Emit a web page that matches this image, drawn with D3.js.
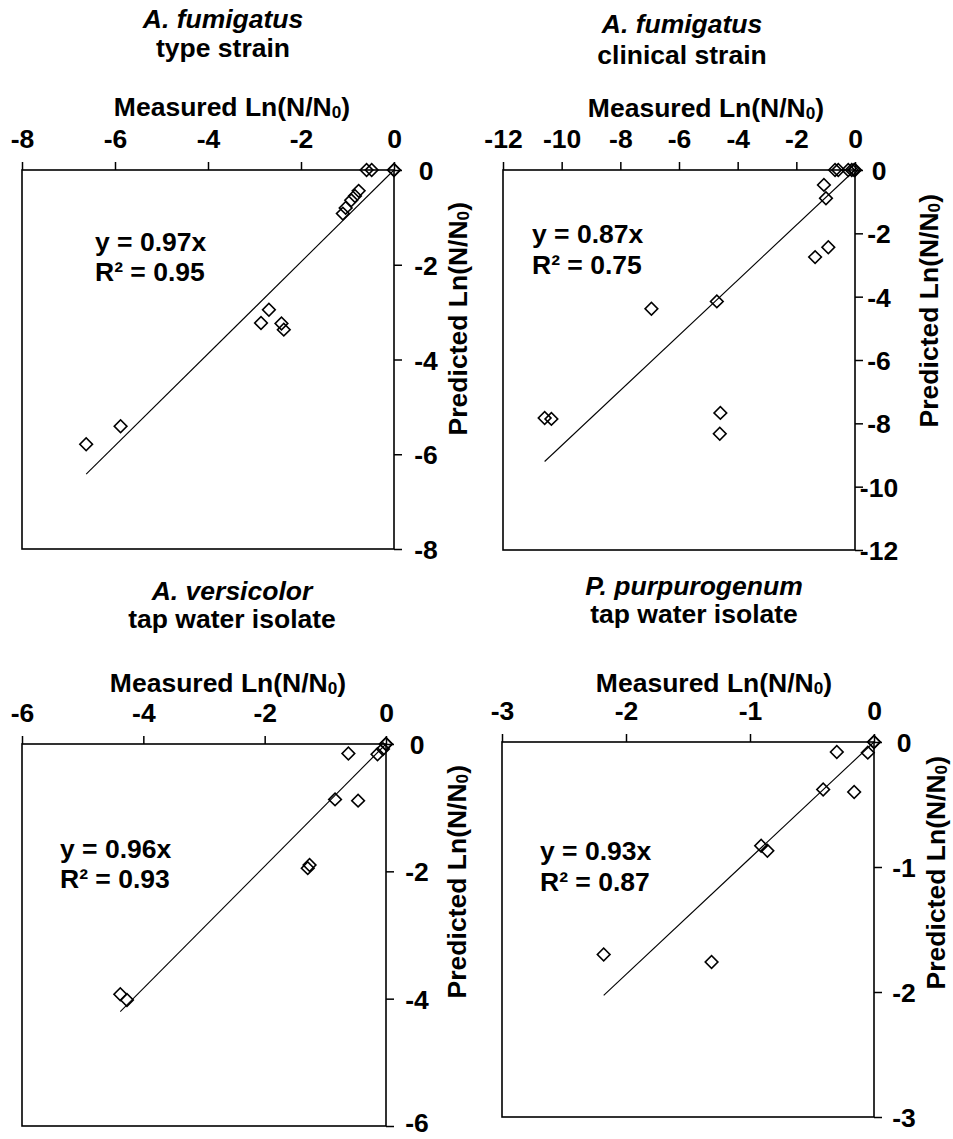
<!DOCTYPE html>
<html><head><meta charset="utf-8">
<script src="https://cdn.jsdelivr.net/npm/d3@7"></script>
<style>
body{margin:0;background:#fff}
text{font-family:"Liberation Sans",Arial,sans-serif;font-weight:bold;fill:#000}
</style>
</head><body>
<svg id="c" width="953" height="1139"></svg>
<script>
// ---------- DATA ----------
const p1Title = ["A. fumigatus", "type strain"];
const p1Ticks = [-8, -6, -4, -2, 0];
const p1Measured  = [0, 0, -0.48, -0.59, -0.76, -0.84, -0.92, -1.04, -1.10, -2.69, -2.86, -2.42, -2.37, -5.88, -6.62];
const p1Predicted = [0, 0, 0, 0, -0.44, -0.55, -0.64, -0.80, -0.92, -2.95, -3.23, -3.24, -3.37, -5.41, -5.79];
const p1Slope = 0.97, p1R2 = 0.95;

const p2Title = ["A. fumigatus", "clinical strain"];
const p2Ticks = [-12, -10, -8, -6, -4, -2, 0];
const p2Measured  = [0, -0.03, -0.11, -0.23, -0.57, -0.68, -1.06, -0.99, -0.91, -1.36, -4.71, -6.94, -4.59, -4.61, -10.58, -10.35];
const p2Predicted = [0, 0, 0, 0, 0, 0, -0.47, -0.89, -2.44, -2.75, -4.15, -4.38, -7.67, -8.33, -7.83, -7.86];
const p2Slope = 0.87, p2R2 = 0.75;

const p3Title = ["A. versicolor", "tap water isolate"];
const p3Ticks = [-6, -4, -2, 0];
const p3Measured  = [0, 0, -0.05, -0.14, -0.62, -0.84, -0.46, -1.29, -1.26, -4.38, -4.27];
const p3Predicted = [0, 0, -0.08, -0.16, -0.15, -0.87, -0.89, -1.95, -1.90, -3.93, -4.02];
const p3Slope = 0.96, p3R2 = 0.93;

const p4Title = ["P. purpurogenum", "tap water isolate"];
const p4Ticks = [-3, -2, -1, 0];
const p4Measured  = [0, 0, -0.05, -0.30, -0.41, -0.16, -0.91, -0.86, -2.18, -1.31];
const p4Predicted = [0, 0, -0.085, -0.08, -0.38, -0.40, -0.83, -0.87, -1.70, -1.76];
const p4Slope = 0.93, p4R2 = 0.87;

const xAxisLabel = "Measured Ln(N/N";
const yAxisLabel = "Predicted Ln(N/N";

// ---------- LAYOUT ----------
const FS = 26.5, H = 1139;
const panels = [
  {title:p1Title, ticks:p1Ticks, mx:p1Measured, py:p1Predicted, slope:p1Slope, r2:p1R2,
   box:{x0:22,x1:394,y0:170,y1:549}, tX:223, tY:[28,57], mX:232, mY:116, yLabOff:32,
   eq:{x:95,y:[251,281]}, yl:{x:467,y:202}},
  {title:p2Title, ticks:p2Ticks, mx:p2Measured, py:p2Predicted, slope:p2Slope, r2:p2R2,
   box:{x0:503,x1:855,y0:170,y1:550}, tX:682, tY:[33,64], mX:706, mY:117, yLabOff:24,
   eq:{x:532,y:[243,274]}, yl:{x:938,y:194}},
  {title:p3Title, ticks:p3Ticks, mx:p3Measured, py:p3Predicted, slope:p3Slope, r2:p3R2,
   box:{x0:22,x1:386,y0:744,y1:1126}, tX:232, tY:[600,628], mX:228, mY:692, yLabOff:31,
   eq:{x:60,y:[858,888]}, yl:{x:466,y:765}},
  {title:p4Title, ticks:p4Ticks, mx:p4Measured, py:p4Predicted, slope:p4Slope, r2:p4R2,
   box:{x0:502,x1:874,y0:742,y1:1117}, tX:694, tY:[595,623], mX:714, mY:692, yLabOff:30,
   eq:{x:540,y:[860,891]}, yl:{x:945,y:756}}
];

const svg = d3.select("#c");

function addText(parent, x, y, opts) {
  const g = parent.append("g")
    .attr("transform", `translate(${x},${y})` + (opts.rotate ? " rotate(-90)" : ""));
  const t = g.append("text").attr("text-anchor", opts.anchor || "middle").style("font-size", FS + "px");
  if (opts.italic) t.style("font-style", "italic");
  if (opts.sub) {
    t.append("tspan").text(opts.text);
    t.append("tspan").text("0").style("font-size", (FS * 0.65) + "px").attr("dy", 2);
    t.append("tspan").text(")").attr("dy", -2);
  } else {
    t.text(opts.text);
  }
  return t;
}

panels.forEach(p => {
  const g = svg.append("g");
  const b = p.box;
  const lo = d3.min(p.ticks), hi = d3.max(p.ticks);
  const x = d3.scaleLinear().domain([lo, hi]).range([b.x0, b.x1]);
  const y = d3.scaleLinear().domain([lo, hi]).range([b.y1, b.y0]);

  // frame
  g.append("rect").attr("x", b.x0).attr("y", b.y0).attr("width", b.x1 - b.x0).attr("height", b.y1 - b.y0)
    .attr("fill", "none").attr("stroke", "#000").attr("stroke-width", 1.6);

  // top axis
  const gx = g.append("g").attr("transform", `translate(0,${b.y0})`)
    .call(d3.axisTop(x).tickValues(p.ticks).tickSize(8).tickSizeOuter(0).tickFormat(d => String(d)));
  gx.select(".domain").remove();
  gx.selectAll(".tick line").attr("stroke-width", 1.5);
  gx.selectAll(".tick text").attr("y", -22).attr("dy", 0).style("font-size", FS + "px");

  // right axis
  const gy = g.append("g").attr("transform", `translate(${b.x1},0)`)
    .call(d3.axisRight(y).tickValues(p.ticks).tickSize(8).tickSizeOuter(0).tickFormat(d => String(d)));
  gy.select(".domain").remove();
  gy.selectAll(".tick line").attr("stroke-width", 1.5);
  gy.selectAll(".tick text").attr("x", p.yLabOff).attr("dy", "0.36em").attr("text-anchor", "middle")
    .style("font-size", FS + "px")
    .each(function(d) {
      const over = y(d) + FS * 0.6 - (H - 1);
      if (over > 0) d3.select(this).attr("y", -over);
    });

  // regression line
  const xmin = d3.min(p.mx);
  g.append("path").attr("d", d3.line().x(d => x(d[0])).y(d => y(d[1]))([[xmin, p.slope * xmin], [0, 0]]))
    .attr("stroke", "#000").attr("stroke-width", 1.1).attr("fill", "none");

  // points
  const sym = d3.symbol(d3.symbolSquare, 80);
  g.selectAll("path.pt").data(p.mx.map((v, i) => [v, p.py[i]])).join("path").attr("class", "pt")
    .attr("d", sym)
    .attr("transform", d => `translate(${x(d[0])},${y(d[1])}) rotate(45)`)
    .attr("fill", "none").attr("stroke", "#000").attr("stroke-width", 1.6);

  // titles
  addText(g, p.tX, p.tY[0], {text: p.title[0], italic: true});
  addText(g, p.tX, p.tY[1], {text: p.title[1]});
  addText(g, p.mX, p.mY, {text: xAxisLabel, sub: true});
  addText(g, p.yl.x, p.yl.y, {text: yAxisLabel, sub: true, rotate: true, anchor: "end"});

  // equation
  addText(g, p.eq.x, p.eq.y[0], {text: `y = ${p.slope.toFixed(2)}x`, anchor: "start"});
  addText(g, p.eq.x, p.eq.y[1], {text: `R² = ${p.r2.toFixed(2)}`, anchor: "start"});
});
</script>
</body></html>
